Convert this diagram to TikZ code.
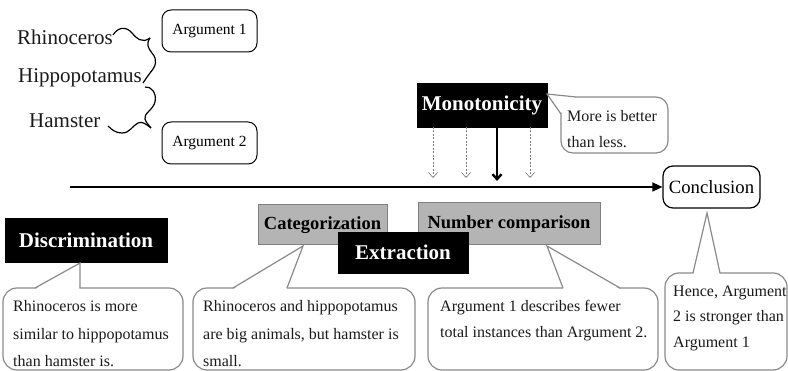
\documentclass[tikz,border=0pt]{standalone}
\usepackage{fontspec}
\setmainfont{Liberation Serif}
\usetikzlibrary{arrows.meta}
\definecolor{boxgray}{HTML}{B4B4B4}
\definecolor{edgegray}{HTML}{808080}
\definecolor{callgray}{HTML}{8A8A8A}
\definecolor{txt}{HTML}{1A1A1A}
\begin{document}
\begin{tikzpicture}[x=1pt,y=-1pt,
  blackbox/.style={draw=black,fill=black,text=white,inner sep=0,
    font=\fontsize{21}{24}\selectfont\bfseries},
  graybox/.style={draw=edgegray,line width=1pt,fill=boxgray,text=black,inner sep=0,
    font=\fontsize{18.5}{22}\selectfont\bfseries},
  argbox/.style={draw=black,line width=1pt,rounded corners=9pt,inner sep=0,
    minimum width=95pt,minimum height=42pt,font=\fontsize{15.5}{18}\selectfont},
  bigword/.style={anchor=base west,inner sep=0,font=\fontsize{21}{24}\selectfont,text=txt},
  ctext/.style={anchor=base west,inner sep=0,font=\fontsize{16}{18}\selectfont,text=txt},
  call/.style={draw=callgray,line width=1.2pt,rounded corners=14pt},
  tail/.style={draw=callgray,line width=1.2pt,line join=miter},
  brace/.style={draw=black,line width=1.2pt,line join=round},
  dasharr/.style={draw=gray,dashed,dash pattern=on 2pt off 1.5pt,line width=0.7pt,
    -{Straight Barb[length=5pt,width=9pt,line width=0.7pt]}},
  thickarr/.style={draw=black,line width=2.4pt,-{Straight Barb[length=5pt,width=9pt]}},
]
\useasboundingbox (0,0) rectangle (788,371);

% ---- left words and braces
\node[bigword] (rhino) at (17,45) {Rhinoceros};
\node[bigword] (hippo) at (18,83) {Hippopotamus};
\node[bigword] (hamst) at (29,128) {Hamster};
\path[brace] (113,35) .. controls (118,27) and (126,26) .. (132,33)
  .. controls (136,38) and (142,44) .. (150,38);
\path[brace] (150,38) .. controls (146,44) and (148,48) .. (152,53)
  .. controls (158,60) and (156,66) .. (150,73) .. controls (147,77) and (145,80) .. (143,83);
\path[brace] (145,87) .. controls (151,86) and (157,93) .. (155,102)
  .. controls (153,110) and (143,114) .. (145,119) .. controls (146,123) and (149,125) .. (151,128);
\path[brace] (151,128) .. controls (146,124) and (142,121) .. (138,123)
  .. controls (132,126) and (130,133) .. (122,133) .. controls (116,133) and (112,130) .. (108,126);

\node[argbox] (arg1) at (209.5,31) {Argument 1};
\node[argbox] (arg2) at (209.5,143) {Argument 2};

% ---- main arrow
\node[draw=black,line width=1.2pt,rounded corners=10pt,inner sep=0,minimum width=97pt,
  minimum height=42pt,font=\fontsize{18.7}{22}\selectfont] (concl) at (711.5,187) {Conclusion};
\coordinate (start) at (70,187);
\draw[line width=1.5pt,-{Triangle[length=10pt,width=9pt]}] (start) -- (concl.west);

% ---- monotonicity
\node[blackbox,minimum width=130pt,minimum height=44pt] (mono) at (482,105) {Monotonicity};
\foreach \x/\n in {433/1,466/2,530/4}{
  \coordinate (ds\n) at (\x,127);
  \coordinate (de\n) at (\x,178);
  \draw[dasharr] (ds\n) -- (de\n);
}
\coordinate (ts) at (497,127);
\coordinate (te) at (497,181);
\draw[thickarr] (ts) -- (te);

% monotonicity callout
\draw[call,rounded corners=12pt] (561,97) rectangle (668,153);
\fill[white] (560.2,114) -- (560.2,96.2) -- (576,96.2) -- cycle;
\draw[tail] (561,114) -- (547,94) -- (576,97);
\node[ctext] (m1) at (567,122) {More is better};
\node[ctext] (m2) at (567,148) {than less.};

% ---- process boxes
\node[blackbox,minimum width=162pt,minimum height=44pt] (disc) at (86,240) {Discrimination};
\node[graybox,minimum width=129pt,minimum height=40pt] (cat) at (322.5,225) {Categorization};
\node[graybox,minimum width=182pt,minimum height=42pt] (numc) at (509,224) {Number comparison};
\node[blackbox,minimum width=130pt,minimum height=41pt] (extr) at (403,252.5) {Extraction};

% ---- callout 1
\draw[call] (3,288) rectangle (183,370);
\fill[white] (35.5,289) -- (80,263) -- (79.4,289) -- cycle;
\draw[tail] (35,288) -- (80,263) -- (80,288);
\node[ctext] (c1a) at (13,312) {Rhinoceros is more};
\node[ctext] (c1b) at (13,340) {similar to hippopotamus};
\node[ctext] (c1c) at (13,367) {than hamster is.};

% ---- callout 2
\draw[call] (193,288) rectangle (415,370);
\fill[white] (233.5,289) -- (303,246) -- (286.6,289) -- cycle;
\draw[tail] (233,288) -- (303,246) -- (287,288);
\node[ctext] (c2a) at (203,312) {Rhinoceros and hippopotamus};
\node[ctext] (c2b) at (203,340) {are big animals, but hamster is};
\node[ctext] (c2c) at (203,367) {small.};

% ---- callout 3
\draw[call] (428,288) rectangle (658,370);
\fill[white] (563.4,289) -- (547,246) -- (619.5,289) -- cycle;
\draw[tail] (563,288) -- (547,246) -- (620,288);
\node[ctext] (c3a) at (440,312) {Argument 1 describes fewer};
\node[ctext] (c3b) at (440,338) {total instances than Argument 2.};

% ---- callout 4
\draw[call] (665,273) rectangle (787,370);
\fill[white] (693.4,274) -- (707,213) -- (719.6,274) -- cycle;
\draw[tail] (693,273) -- (707,213) -- (720,273);
\node[ctext] (c4a) at (673,297) {Hence, Argument};
\node[ctext] (c4b) at (673,322) {2 is stronger than};
\node[ctext] (c4c) at (673,348) {Argument 1};
\end{tikzpicture}
\end{document}
